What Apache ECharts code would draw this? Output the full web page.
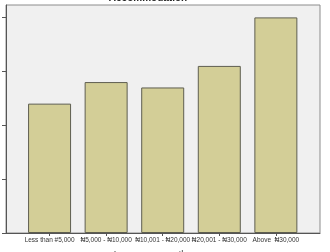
<!DOCTYPE html>
<html><head><meta charset="utf-8">
<script src="https://cdn.jsdelivr.net/npm/echarts@6/dist/echarts.min.js"></script>
<style>html,body{margin:0;padding:0;background:#fff}#c{width:330px;height:252px}</style>
</head><body><div id="c"></div>
<script>
const categories = ["Less than #5,000", "₦5,000 - ₦10,000", "₦10,001 - ₦20,000", "₦20,001 - ₦30,000", "Above  ₦30,000"];
const values = [24, 28, 27, 31, 40];
const yTicks = [0, 10, 20, 30, 40];
const titleText = "Accommodation";
const xTitleText = "Income per month";

const positions = categories.map((c, i) => i);
const chart = echarts.init(document.getElementById('c'), null, {renderer: 'canvas'});
chart.setOption({
  animation: false,
  backgroundColor: '#ffffff',
  grid: {left: 6, top: 5, width: 314, height: 228, show: true, backgroundColor: '#f0f0f0', borderColor: '#8c8c8c', borderWidth: 1},
  xAxis: {
    type: 'value', min: -0.77, max: 4.78,
    axisLine: {show: true, onZero: false, lineStyle: {color: '#555', width: 1}},
    axisTick: {show: true, customValues: positions, length: 3, lineStyle: {color: '#555'}},
    axisLabel: {show: true, customValues: positions, formatter: v => categories[Math.round(v)] || '', fontSize: 6.5, color: '#333', margin: 4, fontFamily: 'Liberation Sans, Arial'},
    splitLine: {show: false}
  },
  yAxis: {
    type: 'value', min: 0, max: 42.3,
    axisLine: {show: true, onZero: false, lineStyle: {color: '#555', width: 1}},
    axisTick: {show: true, customValues: yTicks, length: 4, lineStyle: {color: '#555'}},
    axisLabel: {show: false},
    splitLine: {show: false}
  },
  series: [{
    type: 'bar',
    data: values.map((v, i) => [positions[i], v]),
    barWidth: 43,
    itemStyle: {color: '#d3ce97', borderColor: '#5e5e50', borderWidth: 1}
  }],
  graphic: [
    {type: 'text', x: 148, y: 3, z: 100, style: {text: titleText, align: 'center', verticalAlign: 'bottom', fontSize: 10, fontWeight: 'bold', fill: '#222', fontFamily: 'Liberation Sans, Arial'}},
    {type: 'text', x: 150, y: 250, z: 100, style: {text: xTitleText, align: 'center', verticalAlign: 'top', fontSize: 9, fill: '#333', fontFamily: 'Liberation Sans, Arial'}}
  ]
});
</script></body></html>
